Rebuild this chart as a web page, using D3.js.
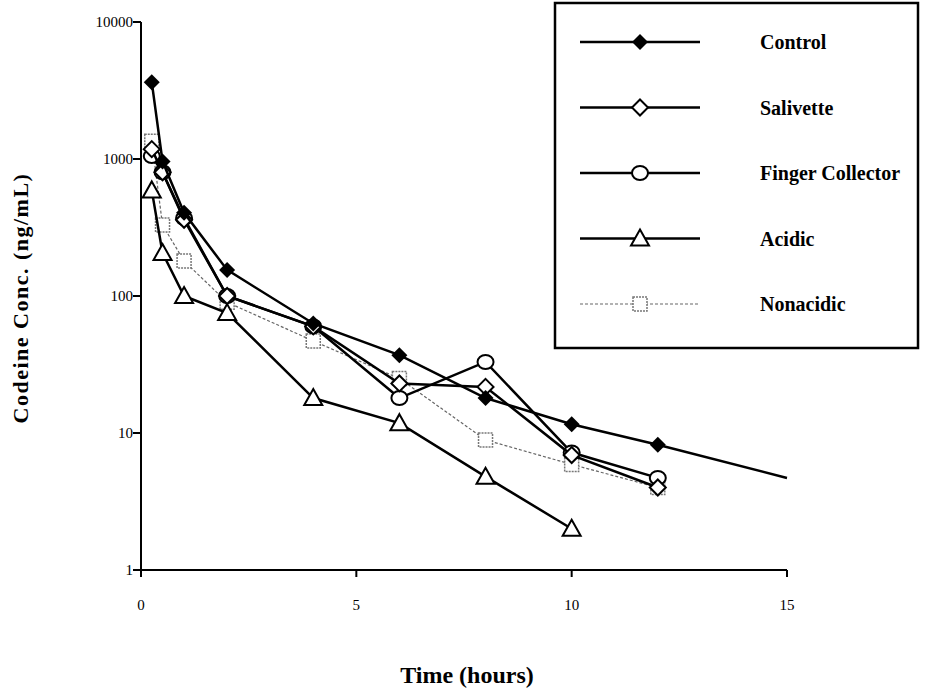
<!DOCTYPE html><html><head><script src="https://cdn.jsdelivr.net/npm/d3@7"></script>
<style>body{margin:0;background:#fff}</style></head><body><svg id="c" width="930" height="694"></svg>
<script>
const times=[0.25,0.5,1,2,4,6,8,10,12];
const control=[3640,960,405,155,63,37,18,11.6,8.2];
const controlTail=[[12,8.2],[15,4.7]];
const salivette=[1180,800,360,100,60,23,21.7,6.9,4.0];
const finger=[1050,800,370,100,60,18,33,7.2,4.7];
const acidic=[590,206,100,75,18,11.8,4.8,2.0];
const nonacidic=[1350,330,180,90,47,25,8.9,5.9,4.0];
const xTicks=[0,5,10,15], yTicks=[1,10,100,1000,10000];
const svg=d3.select("#c");
const x=d3.scaleLinear().domain([0,15]).range([141,787]);
const y=d3.scaleLog().domain([1,10000]).range([570,22]);
const F="Liberation Serif, serif";
svg.append("line").attr("x1",141).attr("x2",141).attr("y1",22).attr("y2",570).attr("stroke","#000").attr("stroke-width",2);
svg.append("line").attr("x1",141).attr("x2",787).attr("y1",570).attr("y2",570).attr("stroke","#000").attr("stroke-width",2);
yTicks.forEach(t=>{svg.append("line").attr("x1",133).attr("x2",141).attr("y1",y(t)).attr("y2",y(t)).attr("stroke","#000").attr("stroke-width",2);
 svg.append("text").attr("x",133).attr("y",y(t)+5).attr("text-anchor","end").attr("font-family",F).attr("font-size",15).attr("fill","#000").text(t);});
xTicks.forEach(t=>{svg.append("line").attr("x1",x(t)).attr("x2",x(t)).attr("y1",570).attr("y2",577).attr("stroke","#000").attr("stroke-width",2);
 svg.append("text").attr("x",x(t)).attr("y",610).attr("text-anchor","middle").attr("font-family",F).attr("font-size",15).attr("fill","#000").text(t);});
svg.append("text").attr("transform","translate(28,298) rotate(-90)").attr("text-anchor","middle").attr("font-family",F).attr("font-weight","bold").attr("font-size",22).attr("letter-spacing",1.5).text("Codeine Conc. (ng/mL)");
svg.append("text").attr("x",467).attr("y",683).attr("text-anchor","middle").attr("font-family",F).attr("font-weight","bold").attr("font-size",24).text("Time (hours)");
const line=d3.line().x(d=>x(d[0])).y(d=>y(d[1]));
function marker(g,type,cx,cy){
 if(type==="diamondF") g.append("path").attr("d",`M${cx},${cy-8}L${cx+8},${cy}L${cx},${cy+8}L${cx-8},${cy}Z`).attr("fill","#000");
 if(type==="diamond") g.append("path").attr("d",`M${cx},${cy-8}L${cx+8},${cy}L${cx},${cy+8}L${cx-8},${cy}Z`).attr("fill","#fff").attr("stroke","#000").attr("stroke-width",2);
 if(type==="circle") g.append("ellipse").attr("cx",cx).attr("cy",cy).attr("rx",8).attr("ry",7).attr("fill","#fff").attr("stroke","#000").attr("stroke-width",2);
 if(type==="tri") g.append("path").attr("d",`M${cx},${cy-9}L${cx+9},${cy+7}L${cx-9},${cy+7}Z`).attr("fill","#fff").attr("stroke","#000").attr("stroke-width",2);
 if(type==="sq") g.append("rect").attr("x",cx-7).attr("y",cy-7).attr("width",14).attr("height",14).attr("fill","#fff").attr("stroke","#777").attr("stroke-width",1.5).attr("stroke-dasharray","2,1");
}
const series=[
 {name:"Control",vals:control,m:"diamondF",c:"#000",w:2.5},
 {name:"Salivette",vals:salivette,m:"diamond",c:"#000",w:2.5},
 {name:"Finger Collector",vals:finger,m:"circle",c:"#000",w:2.5},
 {name:"Acidic",vals:acidic,m:"tri",c:"#000",w:2.5},
 {name:"Nonacidic",vals:nonacidic,m:"sq",c:"#666",w:1.2,dash:"3,2"}];
const plot=svg.append("g");
series.slice().reverse().forEach(s=>{
 const pts=s.vals.map((v,i)=>[times[i],v]);
 plot.append("path").attr("d",line(s.name==="Control"?pts.concat([controlTail[1]]):pts)).attr("fill","none").attr("stroke",s.c).attr("stroke-width",s.w).attr("stroke-dasharray",s.dash||null);
 pts.forEach(p=>marker(plot,s.m,x(p[0]),y(p[1])));
});
svg.append("rect").attr("x",555).attr("y",3).attr("width",363).attr("height",345).attr("fill","#fff").attr("stroke","#000").attr("stroke-width",2.5);
series.forEach((s,i)=>{const ly=42+i*65.5;
 svg.append("line").attr("x1",580).attr("x2",700).attr("y1",ly).attr("y2",ly).attr("stroke",s.c).attr("stroke-width",s.w).attr("stroke-dasharray",s.dash||null);
 marker(svg,s.m,640,ly);
 svg.append("text").attr("x",760).attr("y",ly+7).attr("font-family",F).attr("font-weight","bold").attr("font-size",20).attr("textLength",null).text(s.name);});
</script></body></html>
